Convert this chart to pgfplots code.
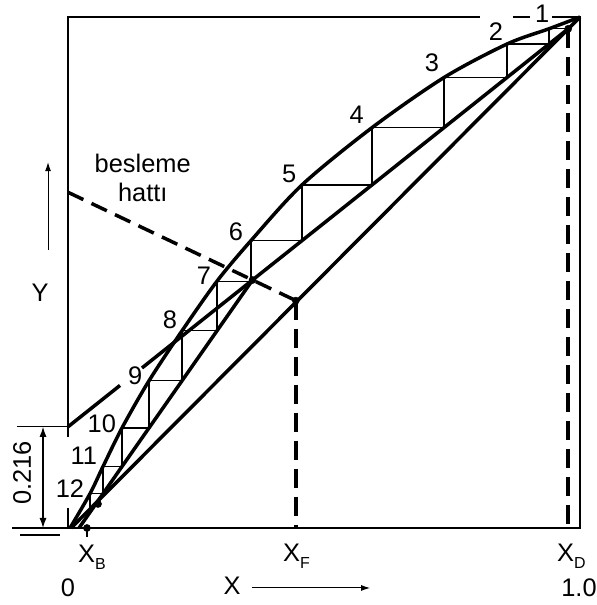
\documentclass[border=0pt]{standalone}
\usepackage{pgfplots}
\pgfplotsset{compat=1.18}
\usepackage{fontspec}
\setmainfont{Liberation Sans}
\usetikzlibrary{arrows.meta}

\newcommand\sub[1]{\raisebox{-7bp}{\fontsize{16}{16}\selectfont #1}}

\begin{document}
\begin{tikzpicture}[
  lbl/.style={font=\fontsize{25.5}{30}\selectfont, inner sep=0pt},
]
\begin{axis}[
  width=597bp, height=605bp, scale only axis,
  xmin=-0.1328, xmax=1.0332, ymin=-0.1507, ymax=1.0333,
  hide axis, clip=false,
]
\path (rel axis cs:0,0) rectangle (rel axis cs:1,1);

% frame of the x-y diagram
\draw[line width=1.5bp] (axis cs:0,0.178) -- (axis cs:0,1) -- (axis cs:0.805,1);
\draw[line width=1.5bp] (axis cs:0.869,1) -- (axis cs:0.902,1);
\draw[line width=1.5bp] (axis cs:0.945,1) -- (axis cs:1,1) -- (axis cs:1,0) -- (axis cs:-0.109,0);
\draw[line width=1.5bp] (axis cs:0,0) -- (axis cs:0,0.039);
\draw[line width=1.2bp] (axis cs:-0.094,-0.0137) -- (axis cs:-0.0156,-0.0137);
\draw[line width=1.2bp] (axis cs:-0.0996,0.198) -- (axis cs:0,0.198);
\draw[line width=1.2bp] (axis cs:0.037,0) -- (axis cs:0.037,-0.018);

% equilibrium curve
\addplot[line width=3.5bp, smooth] coordinates {
  (0.004,0) (0.0430,0.0672) (0.0684,0.1203) (0.1055,0.1958) (0.1582,0.2881)
  (0.2227,0.3859) (0.2910,0.4830) (0.3574,0.5624) (0.4570,0.6714)
  (0.5938,0.7835) (0.7344,0.8816) (0.8574,0.9471) (0.9395,0.977) (1,1)};

% diagonal y = x
\addplot[line width=3.5bp] coordinates {(0.006,0) (1,1)};

% rectifying operating line (broken around the label 9)
\addplot[line width=3.5bp] coordinates {(0,0.198) (0.1016,0.279)};
\addplot[line width=3.5bp] coordinates {(0.1445,0.3132) (0.977,0.977)};

% stripping operating line
\addplot[line width=3.5bp] coordinates {(0.0215,0) (0.3604,0.4853)};

% feed line and vertical guides
\addplot[line width=3.5bp, dash pattern=on 17bp off 9bp] coordinates {(0,0.657) (0.445,0.445)};
\addplot[line width=3.5bp, dash pattern=on 19bp off 9bp] coordinates {(0.445,0.445) (0.445,0)};
\addplot[line width=3.5bp, dash pattern=on 19bp off 9bp] coordinates {(0.977,0.977) (0.977,0)};

% stages
\addplot[line width=1.2bp, sharp plot] coordinates {
  (0.977,0.977) (0.9395,0.977) (0.9395,0.9471) (0.8574,0.9471) (0.8574,0.8816)
  (0.7344,0.8816) (0.7344,0.7835) (0.5938,0.7835) (0.5938,0.6714)
  (0.4570,0.6714) (0.4570,0.5624) (0.3574,0.5624) (0.3574,0.4830)
  (0.2910,0.4830) (0.2910,0.3859) (0.2227,0.3859) (0.2227,0.2881)
  (0.1582,0.2881) (0.1582,0.1958) (0.1055,0.1958) (0.1055,0.1203)
  (0.0684,0.1203) (0.0684,0.0672) (0.0430,0.0672) (0.0430,0.0308)};

% points
\addplot[only marks, mark=*, mark size=3.6bp] coordinates {
  (0.445,0.445) (0.3604,0.4853) (0.977,0.977) (0.0586,0.047) (0.037,0)};

% stage numbers
\node[lbl] at (axis cs:0.926,1.007) {1};
\node[lbl] at (axis cs:0.836,0.9716) {2};
\node[lbl] at (axis cs:0.711,0.910) {3};
\node[lbl] at (axis cs:0.564,0.808) {4};
\node[lbl] at (axis cs:0.432,0.693) {5};
\node[lbl] at (axis cs:0.328,0.579) {6};
\node[lbl] at (axis cs:0.2656,0.493) {7};
\node[lbl] at (axis cs:0.199,0.407) {8};
\node[lbl] at (axis cs:0.131,0.297) {9};
\node[lbl] at (axis cs:0.066,0.2035) {10};
\node[lbl] at (axis cs:0.031,0.141) {11};
\node[lbl] at (axis cs:0.0039,0.078) {12};

% feed line label
\node[lbl] at (axis cs:0.146,0.714) {besleme};
\node[lbl] at (axis cs:0.146,0.656) {hattı};

% intercept dimension
\draw[line width=1.2bp, {Latex[length=10bp,width=7bp]}-{Latex[length=10bp,width=7bp]}]
  (axis cs:-0.0488,0.198) -- (axis cs:-0.0488,0.0);
\node[lbl, rotate=90] at (axis cs:-0.0898,0.1076) {0.216};

% axis titles
\node[lbl] at (axis cs:-0.0547,0.46) {Y};
\draw[line width=1bp, -{Latex[length=9bp,width=6bp]}] (axis cs:-0.039,0.544) -- (axis cs:-0.039,0.716);
\node[lbl, anchor=base] at (axis cs:0.3203,-0.1311) {X};
\draw[line width=1bp, -{Latex[length=9bp,width=6bp]}] (axis cs:0.359,-0.1174) -- (axis cs:0.590,-0.1174);

% composition labels
\node[lbl, anchor=base west] at (axis cs:0.0195,-0.0685) {X\sub{B}};
\node[lbl, anchor=base west] at (axis cs:0.420,-0.0665) {X\sub{F}};
\node[lbl, anchor=base west] at (axis cs:0.955,-0.0665) {X\sub{D}};
\node[lbl, anchor=base] at (axis cs:0,-0.135) {0};
\node[lbl, anchor=base] at (axis cs:0.998,-0.135) {1.0};
\end{axis}
\end{tikzpicture}
\end{document}
